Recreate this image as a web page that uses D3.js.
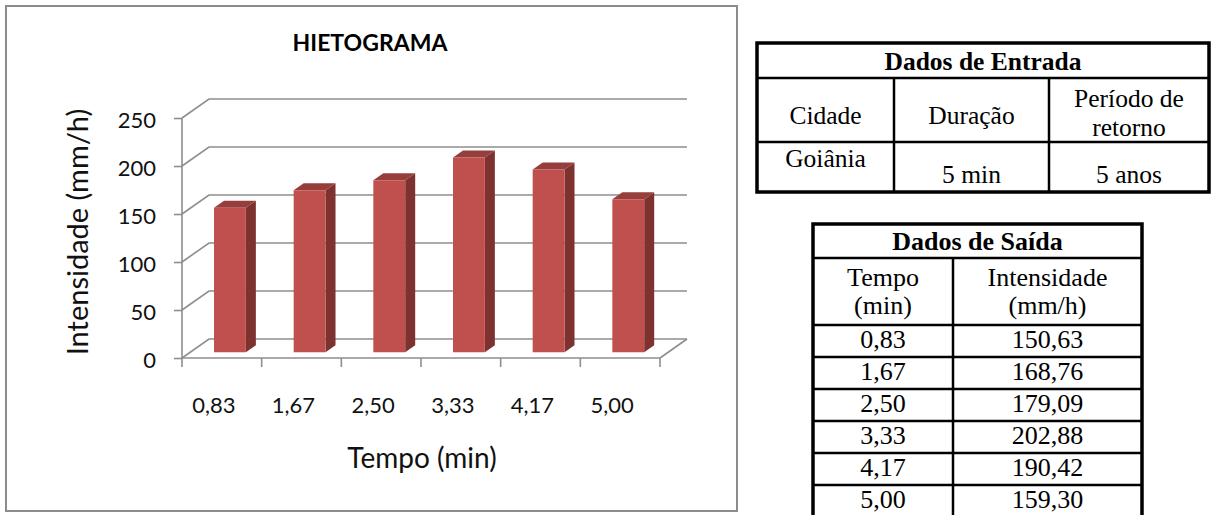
<!DOCTYPE html>
<html>
<head>
<meta charset="utf-8">
<script src="https://cdn.jsdelivr.net/npm/d3@7"></script>
<style>
  body { margin: 0; background: #fff; }
  svg { display: block; }
</style>
</head>
<body>
<svg id="fig" width="1211" height="515"></svg>
<script>
// chart data
var categorias = ["0,83", "1,67", "2,50", "3,33", "4,17", "5,00"];
var tempo = [0.83, 1.67, 2.50, 3.33, 4.17, 5.00];
var intensidade = [150.63, 168.76, 179.09, 202.88, 190.42, 159.30];
var yTicks = [0, 50, 100, 150, 200, 250];

// tables
var entradaTitulo = "Dados de Entrada";
var entradaCabecalho = [["Cidade"], ["Duração"], ["Período de", "retorno"]];
var entradaValores = ["Goiânia", "5 min", "5 anos"];
var saidaTitulo = "Dados de Saída";
var saidaCabecalho = [["Tempo", "(min)"], ["Intensidade", "(mm/h)"]];

var pt = d3.formatLocale({decimal: ",", thousands: ".", grouping: [3], currency: ["R$", ""]});
var fmt2 = pt.format(".2f");

var svg = d3.select("#fig");
var chartFont = "Lato, 'Open Sans', sans-serif";
var tableFont = "'Liberation Serif', 'Times New Roman', serif";

// ---------- chart ----------
svg.append("rect")
	.attr("x", 6).attr("y", 6)
	.attr("width", 731).attr("height", 505)
	.attr("fill", "#fff")
	.attr("stroke", "#8c8c8c")
	.attr("stroke-width", 2);

svg.append("text")
	.attr("x", 370).attr("y", 51)
	.attr("text-anchor", "middle")
	.style("font-family", chartFont)
	.style("font-weight", "bold")
	.style("font-size", "23px")
	.text("HIETOGRAMA");

var x = d3.scaleBand().domain(categorias).range([182, 660]);
var y = d3.scaleLinear().domain([0, 250]).range([358, 118]);
var DX = 27, DY = 19;

// project a point (pixel x, value, depth 0..1) onto the screen
function P(px, v, d) {
	return [px + d * DX, y(v) - d * DY];
}
function poly(pts) {
	return "M" + pts.map(function(p){ return p[0] + "," + p[1]; }).join("L") + "Z";
}

var x0 = x.range()[0], x1 = x.range()[1];
var grid = svg.append("g").attr("fill", "none").attr("stroke", "#8e8e8e").attr("stroke-width", 1.6);

// side wall diagonals + back wall lines
grid.selectAll(".grid")
	.data(yTicks)
	.enter()
	.append("path")
	.attr("d", function(t) {
		var a = P(x0, t, 0), b = P(x0, t, 1), c = P(x1, t, 1);
		return "M" + a + "L" + b + "L" + c;
	});
// floor right edge
grid.append("path").attr("d", "M" + P(x1, 0, 0) + "L" + P(x1, 0, 1));

// bars
var d0 = 0.3, d1 = 0.67;
var bars = svg.selectAll(".bar")
	.data(intensidade.map(function(v, i){ return {cat: categorias[i], v: v}; }))
	.enter()
	.append("g")
	.attr("class", "bar");

function bx0(d){ return x(d.cat) + x.bandwidth() * 0.3; }
function bx1(d){ return x(d.cat) + x.bandwidth() * 0.7; }

bars.append("path")
	.attr("fill", "#7d3230")
	.attr("d", function(d){
		return poly([P(bx1(d), 0, d0), P(bx1(d), 0, d1), P(bx1(d), d.v, d1), P(bx1(d), d.v, d0)]);
	});
bars.append("path")
	.attr("fill", "#963e3b")
	.attr("d", function(d){
		return poly([P(bx0(d), d.v, d0), P(bx1(d), d.v, d0), P(bx1(d), d.v, d1), P(bx0(d), d.v, d1)]);
	});
bars.append("path")
	.attr("fill", "#c0504d")
	.attr("d", function(d){
		return poly([P(bx0(d), 0, d0), P(bx1(d), 0, d0), P(bx1(d), d.v, d0), P(bx0(d), d.v, d0)]);
	});

// front y axis
var yAxis = svg.append("g")
	.attr("transform", "translate(" + x0 + ",0)")
	.call(d3.axisLeft(y).tickValues(yTicks).tickSize(8).tickPadding(18).tickFormat(d3.format("d")));
yAxis.select(".domain").attr("stroke", "#8e8e8e").attr("stroke-width", 1.6).attr("d", "M0," + y(0) + "V" + y(250));
yAxis.selectAll(".tick line").attr("stroke", "#8e8e8e").attr("stroke-width", 1.6);
yAxis.selectAll(".tick text")
	.attr("dy", "0.42em")
	.attr("fill", "#111")
	.style("font-family", chartFont)
	.style("font-size", "22px");

// front x axis: boundary ticks + labels
var xg = svg.append("g").attr("stroke", "#8e8e8e").attr("stroke-width", 1.6);
xg.append("path").attr("d", "M" + x0 + "," + y(0) + "H" + x1);
var bounds = categorias.map(function(c){ return x(c); }).concat([x1]);
xg.selectAll(".xt")
	.data(bounds)
	.enter()
	.append("path")
	.attr("d", function(b){ return "M" + b + "," + y(0) + "v9"; });

svg.selectAll(".xlab")
	.data(categorias)
	.enter()
	.append("text")
	.attr("x", function(c){ return x(c) + x.bandwidth() / 2 - 8; })
	.attr("y", 413)
	.attr("text-anchor", "middle")
	.attr("fill", "#111")
	.style("font-family", chartFont)
	.style("font-size", "22px")
	.text(function(c){ return c; });

svg.append("text")
	.attr("transform", "translate(88,232) rotate(-90)")
	.attr("text-anchor", "middle")
	.attr("fill", "#111")
	.style("font-family", chartFont)
	.style("font-size", "29px")
	.text("Intensidade (mm/h)");

svg.append("text")
	.attr("x", 422).attr("y", 468)
	.attr("text-anchor", "middle")
	.attr("fill", "#111")
	.style("font-family", chartFont)
	.style("font-size", "28px")
	.text("Tempo (min)");

// ---------- table: Dados de Entrada ----------
var t1 = svg.append("g").style("font-family", tableFont).style("font-size", "25.5px").attr("fill", "#000");
var t1L = 757, t1R = 1209, t1Rows = [43, 78, 142, 192], t1Cols = [757, 894, 1049, 1209];
t1.append("rect").attr("x", t1L).attr("y", t1Rows[0]).attr("width", t1R - t1L).attr("height", t1Rows[3] - t1Rows[0])
	.attr("fill", "none").attr("stroke", "#000").attr("stroke-width", 3.5);
t1.selectAll(".hl").data([t1Rows[1], t1Rows[2]]).enter().append("line")
	.attr("x1", t1L).attr("x2", t1R).attr("y1", function(d){ return d; }).attr("y2", function(d){ return d; })
	.attr("stroke", "#000").attr("stroke-width", 2.5);
t1.selectAll(".vl").data([t1Cols[1], t1Cols[2]]).enter().append("line")
	.attr("x1", function(d){ return d; }).attr("x2", function(d){ return d; })
	.attr("y1", t1Rows[1]).attr("y2", t1Rows[3])
	.attr("stroke", "#000").attr("stroke-width", 2.5);
t1.append("text").attr("x", (t1L + t1R) / 2).attr("y", 70).attr("text-anchor", "middle")
	.style("font-weight", "bold").text(entradaTitulo);
entradaCabecalho.forEach(function(lines, i){
	var cx = (t1Cols[i] + t1Cols[i + 1]) / 2;
	var base = lines.length > 1 ? 107 : 124;
	lines.forEach(function(s, j){
		t1.append("text").attr("x", cx).attr("y", base + j * 29).attr("text-anchor", "middle").text(s);
	});
});
var t1ValY = [167, 183, 183];
entradaValores.forEach(function(s, i){
	t1.append("text").attr("x", (t1Cols[i] + t1Cols[i + 1]) / 2).attr("y", t1ValY[i])
		.attr("text-anchor", "middle").text(s);
});

// ---------- table: Dados de Saída ----------
var t2 = svg.append("g").style("font-family", tableFont).style("font-size", "26px").attr("fill", "#000");
var t2L = 813, t2R = 1142, t2Mid = 953, t2Top = 224, t2Head = 258, t2Body = 325, rowH = 32;
var rowTops = tempo.map(function(_, i){ return t2Body + i * rowH; });
t2.append("rect").attr("x", t2L).attr("y", t2Top).attr("width", t2R - t2L).attr("height", 320)
	.attr("fill", "none").attr("stroke", "#000").attr("stroke-width", 3.5);
t2.selectAll(".hl").data([t2Head].concat(rowTops)).enter().append("line")
	.attr("x1", t2L).attr("x2", t2R).attr("y1", function(d){ return d; }).attr("y2", function(d){ return d; })
	.attr("stroke", "#000").attr("stroke-width", 2.5);
t2.append("line").attr("x1", t2Mid).attr("x2", t2Mid).attr("y1", t2Head).attr("y2", 520)
	.attr("stroke", "#000").attr("stroke-width", 2.5);
t2.append("text").attr("x", (t2L + t2R) / 2).attr("y", 250).attr("text-anchor", "middle")
	.style("font-weight", "bold").text(saidaTitulo);
var t2Cx = [(t2L + t2Mid) / 2, (t2Mid + t2R) / 2];
saidaCabecalho.forEach(function(lines, i){
	lines.forEach(function(s, j){
		t2.append("text").attr("x", t2Cx[i]).attr("y", 286 + j * 28).attr("text-anchor", "middle").text(s);
	});
});
t2.selectAll(".tempo").data(tempo).enter().append("text")
	.attr("x", t2Cx[0]).attr("y", function(d, i){ return rowTops[i] + 23; })
	.attr("text-anchor", "middle").text(function(d){ return fmt2(d); });
t2.selectAll(".int").data(intensidade).enter().append("text")
	.attr("x", t2Cx[1]).attr("y", function(d, i){ return rowTops[i] + 23; })
	.attr("text-anchor", "middle").text(function(d){ return fmt2(d); });
</script>
</body>
</html>
